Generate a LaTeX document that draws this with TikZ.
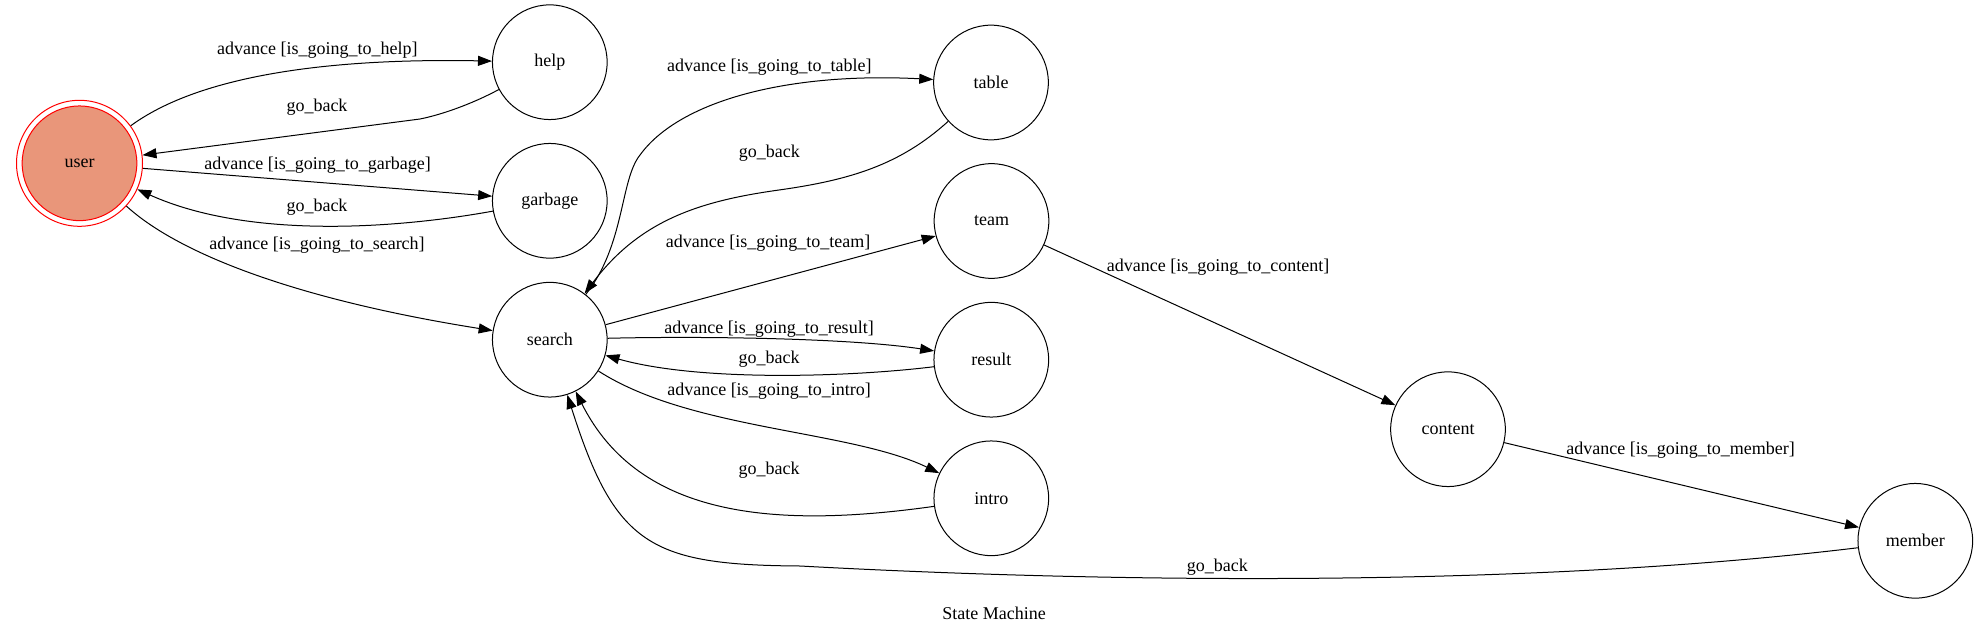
\documentclass[tikz,border=0pt]{standalone}
\usepackage{fontspec}
\setmainfont{Liberation Serif}
\usetikzlibrary{arrows.meta}
\definecolor{usercol}{RGB}{233,150,122}
\begin{document}
\begin{tikzpicture}[x=0.75pt, y=-0.75pt, every node/.style={font=\fontsize{13.5}{16}\selectfont},
  state/.style={draw, circle, minimum size=86pt, inner sep=0pt, line width=0.75pt},
  lbl/.style={inner sep=0pt},
  edge/.style={-{Triangle[length=10.5pt, width=7.5pt]}, line width=0.75pt}]
\useasboundingbox (0,0) rectangle (1988,635);
\node[state, draw=red, minimum size=94.5pt, path picture={\draw[red, fill=usercol, line width=0.75pt] (path picture bounding box.center) circle (43pt);}] (user) at (79.5,163.3) {user};
\node[state] (help) at (549.8,62.2) {help};
\node[state] (garbage) at (549.8,200.8) {garbage};
\node[state] (search) at (549.8,339.7) {search};
\node[state] (table) at (991,82.5) {table};
\node[state] (team) at (991.5,221) {team};
\node[state] (result) at (991.3,359.7) {result};
\node[state] (intro) at (991.3,498.3) {intro};
\node[state] (content) at (1448,429.2) {content};
\node[state] (member) at (1915.3,540.8) {member};
% labels
\node[lbl] (advhelp) at (317.4,50) {advance [is\_going\_to\_help]};
\node[lbl] (backhelp) at (317,106.7) {go\_back};
\node[lbl] (advgarbage) at (317.6,165) {advance [is\_going\_to\_garbage]};
\node[lbl] (backgarbage) at (317,206.7) {go\_back};
\node[lbl] (advsearch) at (317,245) {advance [is\_going\_to\_search]};
\node[lbl] (advtable) at (769.4,66.7) {advance [is\_going\_to\_table]};
\node[lbl] (backtable) at (769.4,152.7) {go\_back};
\node[lbl] (advteam) at (768,242.7) {advance [is\_going\_to\_team]};
\node[lbl] (advresult) at (769,329) {advance [is\_going\_to\_result]};
\node[lbl] (backresult) at (769,358.7) {go\_back};
\node[lbl] (advintro) at (769,390.7) {advance [is\_going\_to\_intro]};
\node[lbl] (backintro) at (769,470) {go\_back};
\node[lbl] (advcontent) at (1218,266.7) {advance [is\_going\_to\_content]};
\node[lbl] (advmember) at (1680.5,450) {advance [is\_going\_to\_member]};
\node[lbl] (backmember) at (1217.4,566.7) {go\_back};
\node[lbl] (title) at (994,613) {State Machine};
% transitions
\draw[edge] (user) .. controls (200,75) and (330,58) .. (help);
\draw[edge] (help) .. controls (470,105) and (440,115) .. (420,119) -- (user);
\draw[edge] (user) -- (garbage);
\draw[edge] (garbage) .. controls (400,228) and (250,240) .. (user);
\draw[edge] (user) .. controls (180,255) and (300,300) .. (search);
\draw[edge] (search) .. controls (625,245) and (620,180) .. (640,155) .. controls (680,100) and (790,72) .. (table);
\draw[edge] (table) .. controls (900,165) and (850,180) .. (779,190) .. controls (700,201) and (640,220) .. (search);
\draw[edge] (search) -- (team);
\draw[edge] (search) .. controls (700,336) and (850,338) .. (result);
\draw[edge] (result) .. controls (850,377) and (700,382) .. (search);
\draw[edge] (search) .. controls (690,430) and (850,430) .. (intro);
\draw[edge] (intro) .. controls (780,528) and (640,520) .. (search);
\draw[edge] (team) -- (content);
\draw[edge] (content) -- (member);
\draw[edge] (member) .. controls (1550,585) and (1150,585) .. (800,566) .. controls (650,565) and (615,545) .. (search);
\end{tikzpicture}
\end{document}
